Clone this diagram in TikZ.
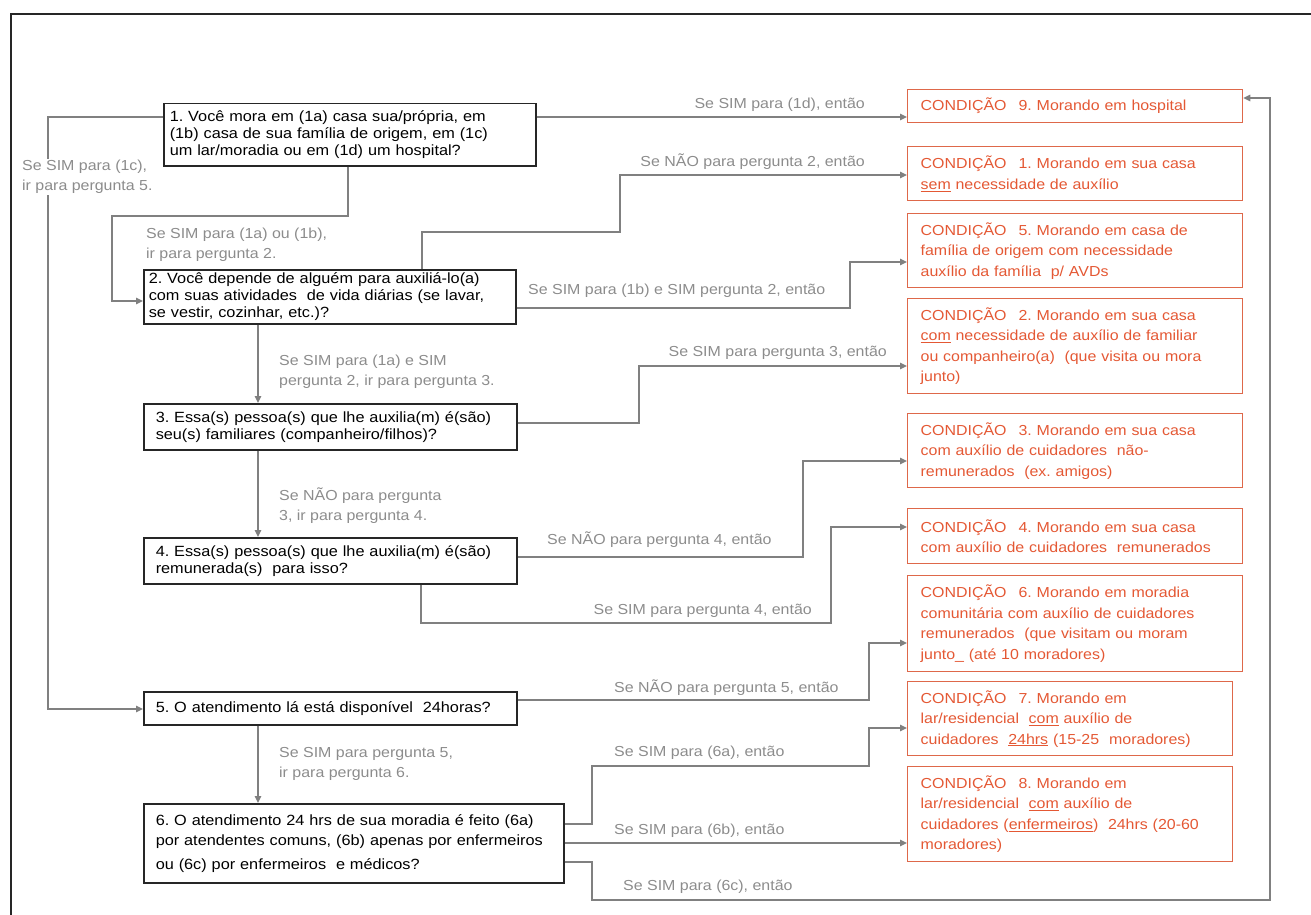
\documentclass[tikz,border=0pt]{standalone}
\usepackage{fontspec}
\setmainfont{Liberation Sans}[FakeStretch=1.1]
\usetikzlibrary{arrows.meta}

\definecolor{qline}{RGB}{38,38,38}
\definecolor{wirec}{RGB}{128,128,128}
\definecolor{notec}{RGB}{140,140,140}
\definecolor{condc}{RGB}{228,88,52}
\definecolor{condedge}{RGB}{222,104,74}

\newcommand\qsz{\fontsize{14.8}{17}\selectfont}
\newcommand\csz{\fontsize{14.5}{20.5}\selectfont}
\newcommand\tsz{\fontsize{14.5}{20}\selectfont}

\tikzset{
  qbox/.style={draw=qline, line width=1.5pt, anchor=north west, align=left,
    inner ysep=0pt, text=black, font=\qsz},
  cbox/.style={draw=condedge, line width=1.3pt, anchor=north west, align=left,
    inner xsep=13pt, inner ysep=0pt, text=condc, font=\csz},
  wire/.style={draw=wirec, line width=1.3pt},
  flow/.style={wire, -{Triangle[length=7pt,width=6.5pt]}},
  tag/.style={text=notec, font=\tsz, inner sep=0pt, align=left},
  frame/.style={draw=black!85, line width=1.6pt},
}

\begin{document}
\frenchspacing
\begin{tikzpicture}[x=1pt,y=-1pt]
\useasboundingbox (0,0) rectangle (1311,915);

% outer frame (top and left edges)
\draw[frame] (11,915) -- (11,14) -- (1311,14);

% questions
\node[qbox, inner xsep=6pt, text width=360pt, minimum height=62pt] (q1) at (163,103)
  {1. Você mora em (1a) casa sua/própria, em\\(1b) casa de sua família de origem, em (1c)\\um lar/moradia ou em (1d) um hospital?};
\node[qbox, inner xsep=5pt, text width=362pt, minimum height=54pt] (q2) at (143,269)
  {2. Você depende de alguém para auxiliá-lo(a)\\com suas atividades\ \ de vida diárias (se lavar,\\se vestir, cozinhar, etc.)?};
\node[qbox, inner xsep=12pt, text width=349pt, minimum height=46pt] (q3) at (143,403)
  {3. Essa(s) pessoa(s) que lhe auxilia(m) é(são)\\seu(s) familiares (companheiro/filhos)?};
\node[qbox, inner xsep=12pt, text width=349pt, minimum height=46pt] (q4) at (143,537)
  {4. Essa(s) pessoa(s) que lhe auxilia(m) é(são)\\remunerada(s)\ \ para isso?};
\node[qbox, inner xsep=12pt, text width=349pt, minimum height=33pt] (q5) at (143,691)
  {5. O atendimento lá está disponível\ \ 24horas?};
\node[qbox, inner xsep=12pt, text width=396pt, minimum height=79pt,
      font=\fontsize{14.8}{20}\selectfont] (q6) at (143,803)
  {6. O atendimento 24 hrs de sua moradia é feito (6a)\\por atendentes comuns, (6b) apenas por enfermeiros\\[4pt]ou (6c) por enfermeiros\ \ e médicos?};

% conditions
\node[cbox, text width=309pt, minimum height=33pt] (c9) at (907,89)
  {CONDIÇÃO\hspace{12pt}9. Morando em hospital};
\node[cbox, text width=309pt, minimum height=54pt] (c1) at (907,146)
  {CONDIÇÃO\hspace{12pt}1. Morando em sua casa\\\underline{sem} necessidade de auxílio};
\node[cbox, text width=309pt, minimum height=74pt] (c5) at (907,213)
  {CONDIÇÃO\hspace{12pt}5. Morando em casa de\\família de origem com necessidade\\auxílio da família\ \ p/ AVDs};
\node[cbox, text width=309pt, minimum height=95pt] (c2) at (907,298)
  {CONDIÇÃO\hspace{12pt}2. Morando em sua casa\\\underline{com} necessidade de auxílio de familiar\\ou companheiro(a)\ \ (que visita ou mora\\junto)};
\node[cbox, text width=309pt, minimum height=74pt] (c3) at (907,413)
  {CONDIÇÃO\hspace{12pt}3. Morando em sua casa\\com auxílio de cuidadores\ \ não-\\remunerados\ \ (ex. amigos)};
\node[cbox, text width=309pt, minimum height=55pt] (c4) at (907,508)
  {CONDIÇÃO\hspace{12pt}4. Morando em sua casa\\com auxílio de cuidadores\ \ remunerados};
\node[cbox, text width=309pt, minimum height=96pt] (c6) at (907,575)
  {CONDIÇÃO\hspace{12pt}6. Morando em moradia\\comunitária com auxílio de cuidadores\\remunerados\ \ (que visitam ou moram\\junto\_ (até 10 moradores)};
\node[cbox, text width=299pt, minimum height=74pt] (c7) at (907,681)
  {CONDIÇÃO\hspace{12pt}7. Morando em\\lar/residencial\ \ \underline{com} auxílio de\\cuidadores\ \ \underline{24hrs} (15-25\hspace{10pt}moradores)};
\node[cbox, text width=299pt, minimum height=95pt] (c8) at (907,766)
  {CONDIÇÃO\hspace{12pt}8. Morando em\\lar/residencial\ \ \underline{com} auxílio de\\cuidadores (\underline{enfermeiros})\ \ 24hrs (20-60\\moradores)};

% connectors between questions
\draw[flow] (q1.west |- 0,117) -| (48,709) -- (q5.west |- 0,709);
\draw[flow] (348,0 |- q1.south) |- (112,216) |- (q2.west |- 0,301);
\draw[flow] (258,0 |- q2.south) -- (258,0 |- q3.north);
\draw[flow] (258,0 |- q3.south) -- (258,0 |- q4.north);
\draw[flow] (258,0 |- q5.south) -- (258,0 |- q6.north);

% connectors to conditions
\draw[flow] (q1.east |- 0,117) -- (c9.west |- 0,117);
\draw[flow] (422,0 |- q2.north) |- (620,232) |- (c1.west |- 0,175);
\draw[flow] (q2.east |- 0,308) -| (850,262) -- (c5.west |- 0,262);
\draw[flow] (q3.east |- 0,423) -| (639,366) -- (c2.west |- 0,366);
\draw[flow] (q4.east |- 0,557) -| (803,461) -- (c3.west |- 0,461);
\draw[flow] (421,0 |- q4.south) |- (831,623) |- (c4.west |- 0,527);
\draw[flow] (q5.east |- 0,700) -| (869,643) -- (c6.west |- 0,643);
\draw[flow] (q6.east |- 0,824) -| (592,766) -| (869,728) -- (c7.west |- 0,728);
\draw[flow] (q6.east |- 0,843) -- (c8.west |- 0,843);
\draw[flow] (q6.east |- 0,862) -| (592,900) -| (1270,98) -- (c9.east |- 0,98);

% connector labels
\node[tag, fill=white, inner sep=1pt, anchor=west] (t1) at (21,177) {Se SIM para (1c),\\ir para pergunta 5.};
\node[tag, anchor=west] (t2) at (146,245) {Se SIM para (1a) ou (1b),\\ir para pergunta 2.};
\node[tag, anchor=west] (t3) at (279,372) {Se SIM para (1a) e SIM\\pergunta 2, ir para pergunta 3.};
\node[tag, anchor=west] (t4) at (279,506) {Se NÃO para pergunta\\3, ir para pergunta 4.};
\node[tag, anchor=west] (t5) at (279,764) {Se SIM para pergunta 5,\\ir para pergunta 6.};
\node[tag, anchor=east] (t6) at (865,105) {Se SIM para (1d), então};
\node[tag, anchor=east] (t7) at (865,162) {Se NÃO para pergunta 2, então};
\node[tag, anchor=west] (t8) at (528,291) {Se SIM para (1b) e SIM pergunta 2, então};
\node[tag, anchor=east] (t9) at (887,353) {Se SIM para pergunta 3, então};
\node[tag, anchor=west] (t10) at (547,540) {Se NÃO para pergunta 4, então};
\node[tag, anchor=east] (t11) at (812,611) {Se SIM para pergunta 4, então};
\node[tag, anchor=west] (t12) at (614,688) {Se NÃO para pergunta 5, então};
\node[tag, anchor=west] (t13) at (614,753) {Se SIM para (6a), então};
\node[tag, anchor=west] (t14) at (614,831) {Se SIM para (6b), então};
\node[tag, anchor=west] (t15) at (623,887) {Se SIM para (6c), então};
\end{tikzpicture}
\end{document}
